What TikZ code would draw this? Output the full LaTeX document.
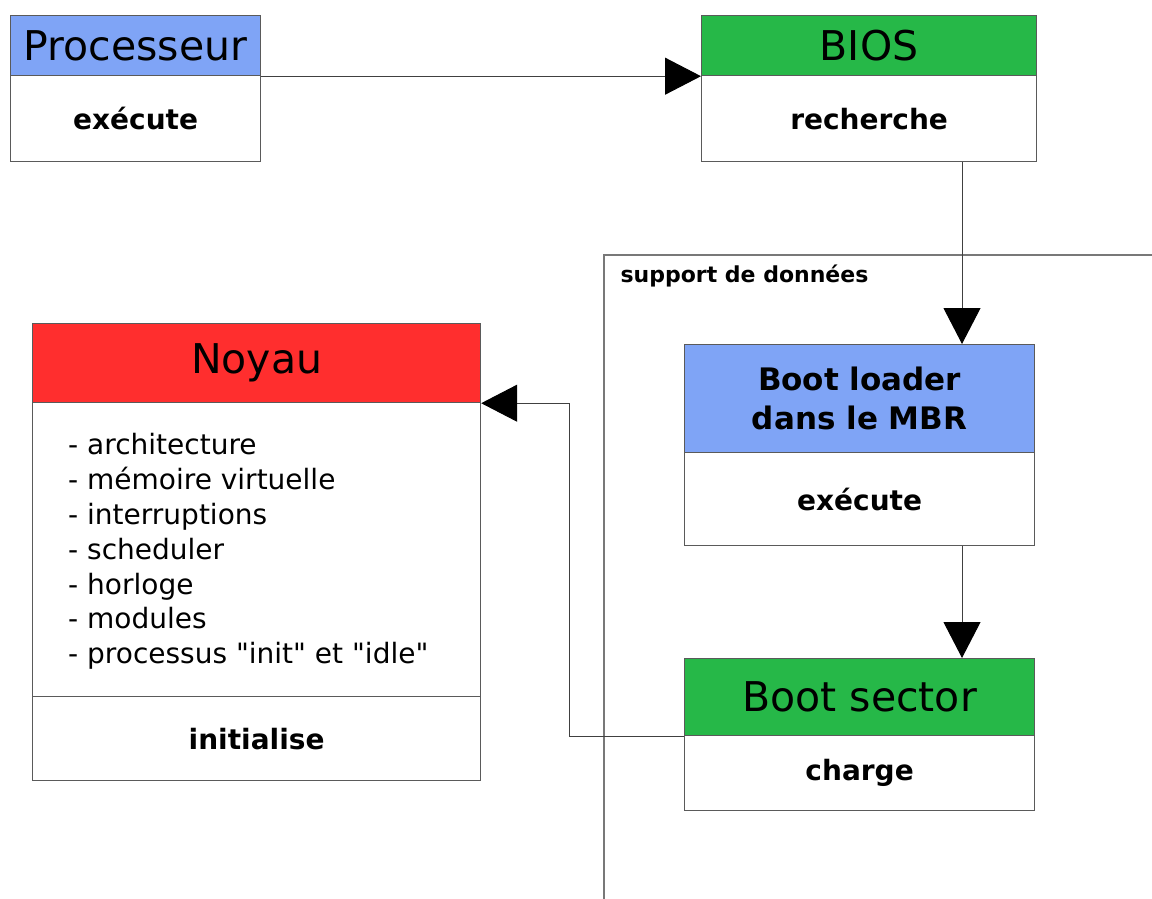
\documentclass[tikz,border=0pt]{standalone}
\usepackage{fontspec}
\setmainfont{DejaVu Sans}
\newfontfamily\listfont{DejaVu Sans}
\usetikzlibrary{arrows.meta}
\definecolor{hblue}{RGB}{127,164,246}
\definecolor{hgreen}{RGB}{38,184,72}
\definecolor{hred}{RGB}{255,46,46}
\definecolor{edge}{RGB}{90,90,90}
\definecolor{frame}{RGB}{120,120,120}
\tikzset{
  box/.style={draw=edge, line width=1.2pt, inner sep=0pt, anchor=north west, align=center},
  headtxt/.style={font=\fontsize{41}{48}\selectfont},
  bodytxt/.style={font=\bfseries\fontsize{28}{34}\selectfont},
  arr/.style={draw=black!75, line width=1pt, -{Triangle[length=36pt,width=37pt,color=black,fill=black]}},
}
\begin{document}
\begin{tikzpicture}[x=1pt,y=-1pt]
\useasboundingbox (0,0) rectangle (1152,899);
% frame of the data medium
\coordinate (fb) at (604,899);
\coordinate (ft) at (604,255);
\coordinate (fr) at (1152,255);
\draw[frame, line width=1.5pt] (fb) -- (ft) -- (fr);
\node[anchor=west, font=\bfseries\fontsize{22}{26}\selectfont] (flab) at (617,276) {support de données};
% Processeur
\node[box, fill=hblue, minimum width=250pt, minimum height=60pt, headtxt] (proch) at (10,15) {Processeur};
\node[box, fill=white, minimum width=250pt, minimum height=86pt, bodytxt] (procb) at (10,75) {exécute};
% BIOS
\node[box, fill=hgreen, minimum width=335pt, minimum height=60pt, headtxt] (biosh) at (701,15) {BIOS};
\node[box, fill=white, minimum width=335pt, minimum height=86pt, bodytxt] (biosb) at (701,75) {recherche};
% Boot loader
\node[box, fill=hblue, minimum width=350pt, minimum height=108pt, font=\bfseries\fontsize{31}{39}\selectfont] (blh) at (684,344) {Boot loader\\dans le MBR};
\node[box, fill=white, minimum width=350pt, minimum height=93pt, bodytxt] (blb) at (684,452) {exécute};
% Boot sector
\node[box, fill=hgreen, minimum width=350pt, minimum height=77pt, headtxt] (bsh) at (684,658) {Boot sector};
\node[box, fill=white, minimum width=350pt, minimum height=75pt, bodytxt] (bsb) at (684,735) {charge};
% Noyau
\node[box, fill=hred, minimum width=448pt, minimum height=79pt, headtxt] (noyh) at (32,323) {Noyau};
\node[box, fill=white, minimum width=448pt, minimum height=294pt] (noyl) at (32,402) {};
\node[anchor=west, align=left, inner sep=0pt, font=\listfont\fontsize{28}{34.8}\selectfont] (noyt) at ([xshift=36pt,yshift=-2pt]noyl.west) {- architecture\\- mémoire virtuelle\\- interruptions\\- scheduler\\- horloge\\- modules\\- processus "init" et "idle"};
\node[box, fill=white, minimum width=448pt, minimum height=84pt, bodytxt] (noyb) at (32,696) {initialise};
% connectors
\draw[arr] (proch.south east) -- (biosh.south west);
\draw[arr] (biosb.south -| 962,0) -- (blh.north -| 962,0);
\draw[arr] (blb.south -| 962,0) -- (bsh.north -| 962,0);
\draw[arr] (bsh.south west) -- ++(-115,0) |- (noyh.south east);
\end{tikzpicture}
\end{document}
